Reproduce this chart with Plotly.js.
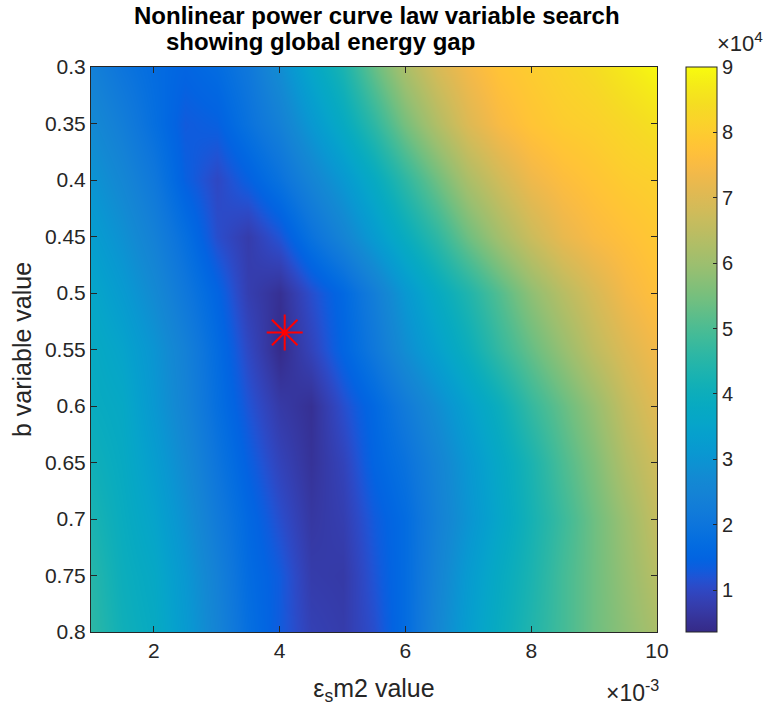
<!DOCTYPE html>
<html>
<head>
<meta charset="utf-8">
<script src="https://cdn.plot.ly/plotly-3.0.1.min.js"></script>
<style>
  html, body { margin: 0; padding: 0; background: #ffffff; }
  #chart { width: 765px; height: 713px; }
</style>
</head>
<body>
<div id="chart"></div>
<script>
// epsilon_s m2 values (x 10^-3)
const epsValues = [1, 1.5, 2, 2.5, 3, 3.5, 4, 4.5, 5, 5.5, 6, 6.5, 7, 7.5, 8, 8.5, 9, 9.5, 10];
// b variable values
const bValues = [0.30, 0.35, 0.40, 0.45, 0.50, 0.55, 0.60, 0.65, 0.70, 0.75, 0.80];
// global energy gap (x 10^4), one row per b value
const gapRow030 = [2.4, 2.0, 1.7, 1.5, 1.7, 2.1, 2.8, 3.6, 4.3, 5.3, 6.2, 6.9, 7.4, 7.8, 8.0, 8.2, 8.4, 8.7, 8.95];
const gapRow035 = [2.7, 2.3, 1.8, 1.3, 1.4, 1.9, 2.4, 3.1, 3.8, 4.6, 5.5, 6.3, 7.0, 7.5, 7.8, 8.0, 8.1, 8.3, 8.5];
const gapRow040 = [3.0, 2.6, 2.1, 1.4, 1.0, 1.4, 1.9, 2.5, 3.1, 3.8, 4.6, 5.4, 6.2, 6.8, 7.3, 7.6, 7.8, 8.0, 8.1];
const gapRow045 = [3.3, 2.9, 2.4, 1.8, 1.1, 0.75, 1.2, 1.9, 2.5, 3.2, 3.9, 4.6, 5.4, 6.1, 6.7, 7.2, 7.5, 7.7, 7.9];
const gapRow050 = [3.6, 3.2, 2.7, 2.1, 1.5, 0.8, 0.5, 1.1, 1.6, 2.3, 3.1, 3.8, 4.4, 5.1, 5.8, 6.4, 6.9, 7.4, 7.7];
const gapRow055 = [3.8, 3.5, 3.0, 2.4, 1.7, 1.0, 0.4, 0.9, 1.5, 2.1, 2.8, 3.4, 4.0, 4.7, 5.3, 5.9, 6.5, 7.0, 7.4];
const gapRow060 = [3.9, 3.7, 3.1, 2.5, 1.8, 1.2, 0.7, 0.5, 1.1, 1.6, 2.2, 2.8, 3.4, 4.0, 4.7, 5.3, 5.9, 6.6, 7.1];
const gapRow065 = [4.1, 3.8, 3.3, 2.7, 2.0, 1.4, 0.9, 0.55, 0.9, 1.5, 1.9, 2.5, 3.1, 3.7, 4.3, 5.0, 5.6, 6.3, 6.8];
const gapRow070 = [4.3, 3.9, 3.5, 2.9, 2.2, 1.6, 1.1, 0.65, 0.8, 1.3, 1.7, 2.4, 3.0, 3.6, 4.2, 4.8, 5.4, 6.0, 6.6];
const gapRow075 = [4.5, 4.0, 3.7, 3.1, 2.4, 1.7, 1.3, 0.75, 0.7, 1.2, 1.7, 2.5, 3.2, 3.8, 4.3, 4.9, 5.4, 5.9, 6.4];
const gapRow080 = [4.6, 4.1, 3.8, 3.2, 2.5, 1.8, 1.3, 0.85, 0.75, 1.1, 1.7, 2.6, 3.3, 3.9, 4.4, 4.9, 5.4, 5.8, 6.2];
// minimum found by the search
const minEps = [4.08];
const minB = [0.535];
// tick labels
const xTickVals = [2, 4, 6, 8, 10];
const yTickVals = [0.3, 0.35, 0.4, 0.45, 0.5, 0.55, 0.6, 0.65, 0.7, 0.75, 0.8];
const cTickVals = [1, 2, 3, 4, 5, 6, 7, 8, 9];

const gapMatrix = [gapRow030, gapRow035, gapRow040, gapRow045, gapRow050, gapRow055,
                   gapRow060, gapRow065, gapRow070, gapRow075, gapRow080];

// MATLAB (R2014b) parula colormap, 64 entries
const parula = [
[0.2081,0.1663,0.5292],[0.2116,0.1898,0.5777],[0.2123,0.2138,0.6270],[0.2081,0.2386,0.6771],
[0.1959,0.2645,0.7279],[0.1707,0.2919,0.7792],[0.1253,0.3242,0.8303],[0.0591,0.3598,0.8683],
[0.0117,0.3875,0.8820],[0.0060,0.4086,0.8828],[0.0165,0.4266,0.8786],[0.0329,0.4430,0.8720],
[0.0498,0.4586,0.8641],[0.0629,0.4737,0.8554],[0.0723,0.4887,0.8467],[0.0779,0.5040,0.8384],
[0.0793,0.5200,0.8312],[0.0749,0.5375,0.8263],[0.0641,0.5570,0.8240],[0.0488,0.5772,0.8228],
[0.0343,0.5966,0.8199],[0.0265,0.6137,0.8135],[0.0239,0.6287,0.8038],[0.0231,0.6418,0.7913],
[0.0228,0.6535,0.7768],[0.0267,0.6642,0.7607],[0.0384,0.6743,0.7436],[0.0590,0.6838,0.7254],
[0.0843,0.6928,0.7062],[0.1133,0.7015,0.6859],[0.1453,0.7098,0.6646],[0.1801,0.7177,0.6424],
[0.2178,0.7250,0.6193],[0.2586,0.7317,0.5954],[0.3022,0.7376,0.5712],[0.3482,0.7424,0.5473],
[0.3953,0.7459,0.5244],[0.4420,0.7481,0.5033],[0.4871,0.7491,0.4840],[0.5300,0.7491,0.4661],
[0.5709,0.7485,0.4494],[0.6099,0.7473,0.4337],[0.6473,0.7456,0.4188],[0.6834,0.7435,0.4044],
[0.7184,0.7411,0.3905],[0.7525,0.7384,0.3768],[0.7858,0.7356,0.3633],[0.8185,0.7327,0.3498],
[0.8507,0.7299,0.3360],[0.8824,0.7274,0.3217],[0.9139,0.7258,0.3063],[0.9450,0.7261,0.2886],
[0.9739,0.7314,0.2666],[0.9938,0.7455,0.2403],[0.9990,0.7653,0.2164],[0.9955,0.7861,0.1967],
[0.9880,0.8066,0.1794],[0.9789,0.8271,0.1633],[0.9697,0.8481,0.1475],[0.9626,0.8705,0.1309],
[0.9589,0.8949,0.1132],[0.9598,0.9218,0.0948],[0.9661,0.9514,0.0755],[0.9763,0.9831,0.0538]];
const colorscale = parula.map((c, i) => [i / (parula.length - 1),
  'rgb(' + Math.round(c[0]*255) + ',' + Math.round(c[1]*255) + ',' + Math.round(c[2]*255) + ')']);

const FONT = 'Liberation Sans, Arial, Helvetica, sans-serif';
const INK = '#262626';

const heat = {
  type: 'heatmap',
  x: epsValues,
  y: bValues,
  z: gapMatrix,
  zmin: 0.36,
  zmax: 9.0,
  zsmooth: 'best',
  colorscale: colorscale,
  hoverinfo: 'skip',
  colorbar: {
    x: 1.051, xanchor: 'left', xpad: 0,
    y: 0.5, yanchor: 'middle', ypad: 0,
    len: 1, lenmode: 'fraction',
    thickness: 31, thicknessmode: 'pixels',
    outlinewidth: 1, outlinecolor: INK,
    tickmode: 'array', tickvals: cTickVals, ticktext: cTickVals.map(String),
    ticks: 'inside', ticklen: 4, tickcolor: INK, tickwidth: 1,
    tickfont: {family: FONT, size: 20, color: INK}
  }
};

const star = {
  type: 'scatter', mode: 'markers',
  x: minEps, y: minB,
  marker: {symbol: 'asterisk-open', size: 30, color: '#ff0000', line: {color: '#ff0000', width: 2}},
  hoverinfo: 'skip', showlegend: false
};
const starDot = {
  type: 'scatter', mode: 'markers',
  x: minEps, y: minB,
  marker: {symbol: 'circle', size: 5, color: '#ff0000'},
  hoverinfo: 'skip', showlegend: false
};

const layout = {
  width: 765, height: 713,
  margin: {l: 91, r: 108, t: 67, b: 81, pad: 0},
  paper_bgcolor: '#ffffff', plot_bgcolor: '#ffffff',
  font: {family: FONT, color: INK, size: 21},
  showlegend: false,
  xaxis: {
    range: [1, 10], autorange: false,
    tickmode: 'array', tickvals: xTickVals, ticktext: xTickVals.map(String),
    ticks: 'inside', ticklen: 6, tickcolor: INK, tickwidth: 1,
    showline: true, linecolor: INK, linewidth: 1, mirror: 'ticks',
    showgrid: false, zeroline: false,
    tickfont: {family: FONT, size: 21, color: INK},
    title: {text: 'ε<sub>s</sub>m2 value', font: {family: FONT, size: 25, color: INK}, standoff: 18}
  },
  yaxis: {
    range: [0.8, 0.3], autorange: false,
    tickmode: 'array', tickvals: yTickVals, ticktext: yTickVals.map(String),
    ticks: 'inside', ticklen: 6, tickcolor: INK, tickwidth: 1,
    showline: true, linecolor: INK, linewidth: 1, mirror: 'ticks',
    showgrid: false, zeroline: false,
    tickfont: {family: FONT, size: 21, color: INK},
    title: {text: 'b variable value', font: {family: FONT, size: 25, color: INK}, standoff: 6}
  },
  annotations: [
    {text: '<b>Nonlinear power curve law variable search</b>', xref: 'paper', yref: 'paper',
     x: 0.505, y: 1 + (67 - 16) / 565, xanchor: 'center', yanchor: 'middle', showarrow: false,
     font: {family: FONT, size: 24, color: '#000000'}},
    {text: '<b>showing global energy gap</b>', xref: 'paper', yref: 'paper',
     x: 0.406, y: 1 + (67 - 42) / 565, xanchor: 'center', yanchor: 'middle', showarrow: false,
     font: {family: FONT, size: 24, color: '#000000'}},
    {text: '×10<sup>4</sup>', xref: 'paper', yref: 'paper',
     x: (715 - 91) / 566, y: 1 + (67 - 42) / 565, xanchor: 'left', yanchor: 'middle', showarrow: false,
     font: {family: FONT, size: 22, color: INK}},
    {text: '×10<sup>-3</sup>', xref: 'paper', yref: 'paper',
     x: (661 - 91) / 566, y: -(691 - 632) / 565, xanchor: 'right', yanchor: 'middle', showarrow: false,
     font: {family: FONT, size: 23, color: INK}}
  ]
};

Plotly.newPlot('chart', [heat, star, starDot], layout, {displayModeBar: false, staticPlot: true});
</script>
</body>
</html>
